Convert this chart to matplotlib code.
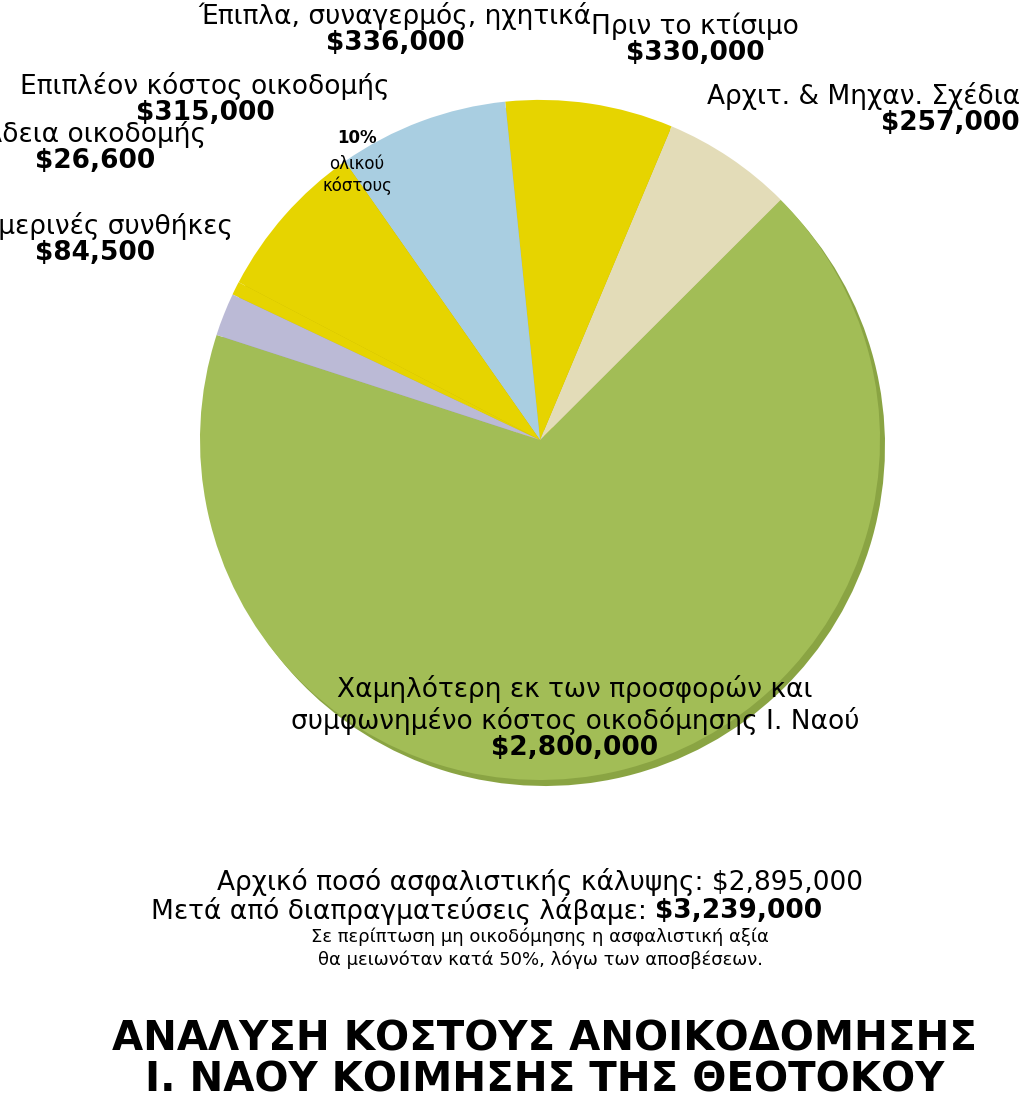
import matplotlib
matplotlib.use("Agg")
import matplotlib.pyplot as plt

labels = ["Χαμηλότερη εκ των προσφορών και\nσυμφωνημένο κόστος οικοδόμησης Ι. Ναού",
          "Αρχιτ. & Μηχαν. Σχέδια", "Πριν το κτίσιμο", "Έπιπλα, συναγερμός, ηχητικά",
          "Επιπλέον κόστος οικοδομής", "Άδεια οικοδομής", "Χειμερινές συνθήκες"]
values = [2800000, 257000, 330000, 336000, 315000, 26600, 84500]
value_text = ["$2,800,000", "$257,000", "$330,000", "$336,000", "$315,000", "$26,600", "$84,500"]
colors = ["#a2bd56", "#e3dcb8", "#e6d400", "#a9cee1", "#e6d400", "#e6d400", "#bbbad6"]
dark = ["#8aa443", "#c9c29c", "#c9b800", "#8fb4c8", "#c9b800", "#c9b800", "#9d9cbb"]
explode = [0.0, 0.14, 0.1, 0.14, 0.08, 0.2, 0.1]

FONT = ["Liberation Sans Narrow", "DejaVu Sans Condensed", "DejaVu Sans"]
plt.rcParams["font.family"] = FONT

fig = plt.figure(figsize=(10.24, 11.09), dpi=100)
ax = fig.add_axes([0, 0, 1, 1])
H = 1109
cx, cy, R = 540, H - 440, 340
ax.pie(values, colors=dark, explode=explode, startangle=162, center=(cx + 5, cy - 6),
       radius=R, wedgeprops=dict(linewidth=0))
ax.pie(values, colors=colors, explode=explode, startangle=162, center=(cx, cy),
       radius=R, wedgeprops=dict(linewidth=0))
ax.set_xlim(0, 1024)
ax.set_ylim(0, H)
ax.set_aspect("equal")
ax.axis("off")

def lab(x, y, name, val, ha="center", fs=19):
    ax.text(x, H - y, name, ha=ha, va="bottom", fontsize=fs, linespacing=1.2)
    ax.text(x, H - y, val, ha=ha, va="top", fontsize=fs, fontweight="bold")

lab(575, 735, labels[0], value_text[0])
lab(1020, 110, labels[1], value_text[1], ha="right")
lab(695, 40, labels[2], value_text[2])
lab(395, 30, labels[3], value_text[3])
lab(205, 100, labels[4], value_text[4])
lab(95, 148, labels[5], value_text[5])
lab(95, 240, labels[6], value_text[6])
ax.text(357, H - 138, "10%", ha="center", va="center", fontsize=12, fontweight="bold")
ax.text(357, H - 175, "ολικού\nκόστους", ha="center", va="center", fontsize=12)

ax.text(540, H - 882, "Αρχικό ποσό ασφαλιστικής κάλυψης: $2,895,000", ha="center", va="center", fontsize=19)
ax.text(655, H - 911, "Μετά από διαπραγματεύσεις λάβαμε: ", ha="right", va="center", fontsize=19)
ax.text(655, H - 911, "$3,239,000", ha="left", va="center", fontsize=19, fontweight="bold")
ax.text(540, H - 948, "Σε περίπτωση μη οικοδόμησης η ασφαλιστική αξία\nθα μειωνόταν κατά 50%, λόγω των αποσβέσεων.",
        ha="center", va="center", fontsize=13, linespacing=1.3)
ax.text(545, H - 1060, "ΑΝΑΛΥΣΗ ΚΟΣΤΟΥΣ ΑΝΟΙΚΟΔΟΜΗΣΗΣ\nΙ. ΝΑΟΥ ΚΟΙΜΗΣΗΣ ΤΗΣ ΘΕΟΤΟΚΟΥ",
        ha="center", va="center", fontsize=29, fontweight="bold", linespacing=1.05)
fig.savefig("out.png", dpi=100)
